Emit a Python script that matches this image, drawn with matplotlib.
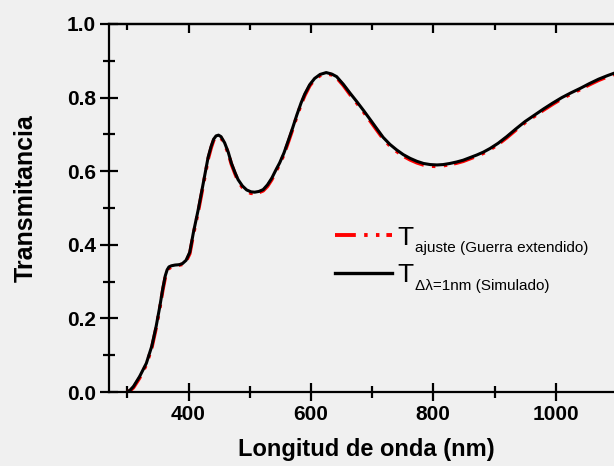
import matplotlib
matplotlib.use("Agg")
import matplotlib.pyplot as plt
from matplotlib.lines import Line2D
from matplotlib.ticker import MultipleLocator

# Transmitancia simulada (Delta lambda = 1 nm)
lam = [300, 305, 310, 320, 331, 340, 347, 353, 358, 362, 365, 368, 372, 378, 385,
       390, 396, 402, 408, 416, 424, 432, 437, 441, 445, 449, 453, 459, 465, 470,
       476, 481, 488, 495, 502, 508, 515, 522, 529, 536, 542, 549, 556, 563, 570,
       577, 584, 590, 598, 606, 615, 625, 634, 642, 653, 664, 675, 686, 697, 707,
       718, 729, 740, 751, 762, 773, 784, 795, 806, 816, 827, 838, 849, 860, 871,
       882, 893, 906, 920, 935, 950, 965, 980, 995, 1010, 1025, 1040, 1055, 1070,
       1085, 1100]
t_sim = [0.000, 0.006, 0.015, 0.042, 0.078, 0.125, 0.178, 0.232, 0.282, 0.316,
         0.332, 0.340, 0.343, 0.345, 0.346, 0.349, 0.358, 0.380, 0.434, 0.497,
         0.567, 0.638, 0.668, 0.687, 0.696, 0.698, 0.694, 0.677, 0.651, 0.622,
         0.596, 0.577, 0.560, 0.549, 0.544, 0.543, 0.545, 0.550, 0.563, 0.581,
         0.601, 0.623, 0.650, 0.683, 0.717, 0.753, 0.786, 0.810, 0.835, 0.852,
         0.863, 0.868, 0.864, 0.857, 0.836, 0.812, 0.789, 0.765, 0.740, 0.717,
         0.692, 0.673, 0.658, 0.645, 0.635, 0.627, 0.621, 0.618, 0.617, 0.618,
         0.621, 0.625, 0.630, 0.637, 0.644, 0.652, 0.662, 0.676, 0.694, 0.715,
         0.735, 0.752, 0.769, 0.785, 0.800, 0.813, 0.825, 0.838, 0.850, 0.860,
         0.869]

# Ajuste con el modelo de Guerra extendido
t_fit = [0.000, 0.004, 0.012, 0.038, 0.074, 0.121, 0.174, 0.228, 0.278, 0.312,
         0.328, 0.336, 0.340, 0.343, 0.345, 0.347, 0.355, 0.376, 0.429, 0.492,
         0.562, 0.633, 0.664, 0.684, 0.693, 0.695, 0.691, 0.674, 0.648, 0.619,
         0.593, 0.573, 0.556, 0.545, 0.540, 0.540, 0.542, 0.547, 0.559, 0.577,
         0.597, 0.619, 0.646, 0.679, 0.713, 0.749, 0.782, 0.806, 0.832, 0.849,
         0.860, 0.865, 0.862, 0.854, 0.833, 0.808, 0.785, 0.761, 0.736, 0.713,
         0.688, 0.669, 0.654, 0.641, 0.631, 0.623, 0.617, 0.614, 0.613, 0.615,
         0.618, 0.622, 0.627, 0.634, 0.641, 0.649, 0.659, 0.673, 0.691, 0.712,
         0.732, 0.749, 0.766, 0.782, 0.797, 0.810, 0.822, 0.835, 0.847, 0.857,
         0.866]

SUBS = ["ajuste (Guerra extendido)", "\u0394\u03bb=1nm (Simulado)"]

BG = "#f0f0f0"
plt.rcParams["font.family"] = ["Liberation Sans", "DejaVu Sans"]
plt.rcParams["lines.scale_dashes"] = False

fig = plt.figure(figsize=(6.14, 4.66), dpi=100, facecolor=BG)
# el eje derecho queda fuera del recorte, como en la figura original
ax = fig.add_axes([109 / 614, 74 / 466, 514 / 614, 368 / 466])
ax.set_facecolor(BG)

dash = (15, 6, 2.5, 6, 2.5, 5)
ax.plot(lam, t_fit, color="#ff0000", lw=2.6, dashes=dash, zorder=2)
ax.plot(lam, t_sim, color="black", lw=2.2, zorder=3)

ax.set_xlim(270, 1110)
ax.set_ylim(0, 1.0)
ax.xaxis.set_major_locator(MultipleLocator(200))
ax.xaxis.set_minor_locator(MultipleLocator(100))
ax.yaxis.set_major_locator(MultipleLocator(0.2))
ax.yaxis.set_minor_locator(MultipleLocator(0.1))
ax.yaxis.set_major_formatter(lambda v, p: f"{v:.1f}")

for s in ax.spines.values():
    s.set_linewidth(1.6)
ax.tick_params(which="major", direction="inout", length=13, width=1.6, pad=3,
               labelsize=15)
ax.tick_params(which="minor", direction="inout", length=8.5, width=1.6)
for lab in ax.get_xticklabels() + ax.get_yticklabels():
    lab.set_fontweight("bold")

top = ax.secondary_xaxis("top")
top.xaxis.set_major_locator(MultipleLocator(200))
top.xaxis.set_minor_locator(MultipleLocator(100))
top.tick_params(which="major", direction="in", length=6.5, width=1.6, labeltop=False)
top.tick_params(which="minor", direction="in", length=4.5, width=1.6)
top.spines["top"].set_linewidth(1.6)

ax.set_xlabel("Longitud de onda (nm)", fontsize=17, fontweight="bold")
ax.xaxis.set_label_coords(0.5, -0.125)
ax.set_ylabel("Transmitancia", fontsize=18, fontweight="bold")
ax.yaxis.set_label_coords(-0.138, 0.527)

h_fit = Line2D([], [], color="#ff0000", lw=2.8, dashes=dash)
h_sim = Line2D([], [], color="black", lw=2.4)
leg = ax.legend([h_fit, h_sim], ["T", "T"], loc="upper left",
                bbox_to_anchor=(0.44, 0.452), fontsize=19, frameon=False,
                borderpad=0, borderaxespad=0, handlelength=2.16,
                handletextpad=0.2, labelspacing=0.51)
# subindices pegados a cada "T" de la leyenda (se dibujan despues de ella)
for txt, sub in zip(leg.get_texts(), SUBS):
    ax.annotate(sub, xy=(1, 0), xycoords=txt, xytext=(1, -1.8),
                textcoords="offset points", fontsize=11, va="baseline",
                zorder=6)

fig.savefig("out.png", dpi=100, facecolor=BG)
